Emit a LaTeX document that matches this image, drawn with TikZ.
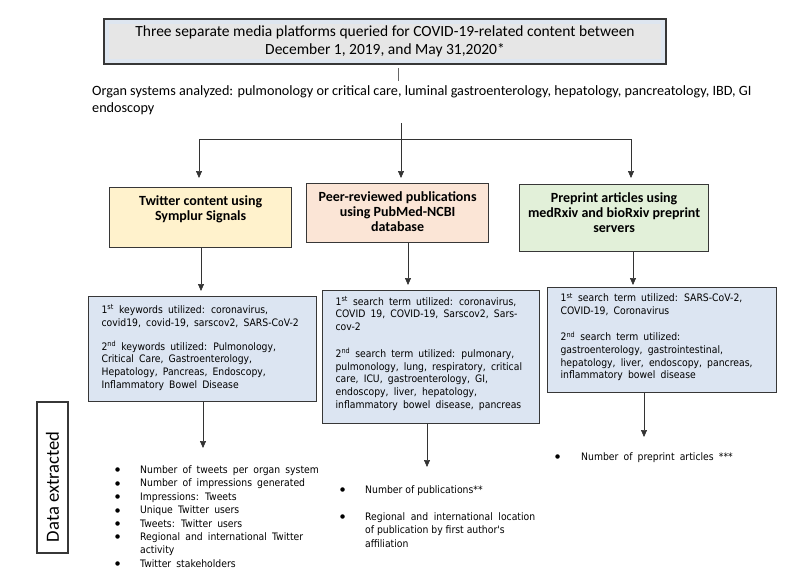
\documentclass[tikz,border=0pt]{standalone}
\usepackage{fontspec}
\setmainfont{Carlito}
\newfontfamily\headfont{Carlito}
\newfontfamily\bodyfont{DejaVu Sans}[FakeStretch=0.9]
\newfontfamily\dotfont{DejaVu Sans}
\usetikzlibrary{arrows.meta}
\definecolor{topouter}{RGB}{222,230,240}
\definecolor{topinner}{RGB}{230,230,230}
\definecolor{tyellow}{RGB}{255,242,204}
\definecolor{tpeach}{RGB}{251,229,214}
\definecolor{tgreen}{RGB}{226,240,217}
\definecolor{tblue}{RGB}{220,229,242}
\definecolor{edge}{RGB}{55,55,55}
\newcommand\bul[1]{\hspace*{-#1}\makebox[#1][l]{\raisebox{1.6pt}{\dotfont\fontsize{5.8}{5.8}\selectfont ●}}}
\begin{document}
\begin{tikzpicture}[x=1pt,y=-1pt]
\tikzset{
  line/.style={draw=black!80, line width=0.7pt},
  arr/.style={line, -{Triangle[length=7pt,width=6pt]}},
  titlebox/.style={draw=edge, line width=1.2pt, inner sep=0pt, anchor=north west,
    font=\headfont\bfseries\fontsize{14}{15}\selectfont},
  termbox/.style={draw=edge, line width=1.2pt, fill=tblue, inner sep=0pt, anchor=north west,
    font=\bodyfont\fontsize{10.3}{12.7}\selectfont},
  listtext/.style={inner sep=0pt, anchor=north west, font=\bodyfont\fontsize{10.3}{13.4}\selectfont},
}
\useasboundingbox[fill=white] (0,0) rectangle (800,587);

% top box
\node[draw=edge, line width=1.3pt, fill=topouter, minimum width=562pt, minimum height=45pt,
  inner sep=0pt, align=center, font=\headfont\fontsize{15.5}{17.5}\selectfont,
  path picture={\fill[topinner] ([shift={(5pt,-5pt)}]path picture bounding box.north west)
     rectangle ([shift={(-5pt,5pt)}]path picture bounding box.south east);}]
  (top) at (385,41.5) {Three separate media platforms queried for COVID-19-related content between\\December 1, 2019, and May 31,2020*};

\coordinate (tickA) at (398,68);
\coordinate (tickB) at (398,81);
\draw[line, draw=black!60] (tickA) -- (tickB);

\node[inner sep=0pt, anchor=north west, align=left, font=\headfont\fontsize{14.2}{16.5}\selectfont]
  (organ) at (92,85.5) {Organ systems analyzed: pulmonology or critical care, luminal gastroenterology, hepatology, pancreatology, IBD, GI\\endoscopy};

% tree
\coordinate (hub) at (401,123);
\coordinate (bar) at (401,139);
\coordinate (barL) at (199,139);
\coordinate (barR) at (631,139);

% second row
\node[titlebox, fill=tyellow] (twitter) at (109,187)
  {\parbox[c][60pt][t]{182pt}{\centering\vspace*{8pt}Twitter content using\\Symplur Signals}};
\node[titlebox, fill=tpeach] (pubmed) at (306,183)
  {\parbox[c][59pt][t]{182pt}{\centering\vspace*{8pt}Peer-reviewed publications\\using PubMed-NCBI\\database}};
\node[titlebox, fill=tgreen] (preprint) at (519,184)
  {\parbox[c][67pt][t]{189pt}{\centering\vspace*{7.7pt}Preprint articles using\\medRxiv and bioRxiv preprint\\servers}};

\draw[line] (hub) -- (bar);
\draw[line] (barL) -- (barR);
\draw[arr, shorten >=9pt] (barL) -- (barL |- twitter.north);
\draw[arr, shorten >=5pt] (bar) -- (bar |- pubmed.north);
\draw[arr, shorten >=6pt] (barR) -- (barR |- preprint.north);

% third row
\node[termbox] (kw) at (88,296)
  {\parbox[c][105pt][t]{228pt}{\raggedright\spaceskip=0.5em\leftskip=13pt\vspace*{8pt}%
  1\textsuperscript{st} keywords utilized: coronavirus,\\
  covid19, covid-19, sarscov2, SARS-CoV-2\\[11.6pt]
  2\textsuperscript{nd} keywords utilized: Pulmonology,\\
  Critical Care, Gastroenterology,\\
  Hepatology, Pancreas, Endoscopy,\\
  Inflammatory Bowel Disease}};
\node[termbox] (search) at (322,290)
  {\parbox[c][133pt][t]{217pt}{\raggedright\spaceskip=0.5em\leftskip=13pt\vspace*{6pt}%
  1\textsuperscript{st} search term utilized: coronavirus,\\
  COVID 19, COVID-19, Sarscov2, Sars-\\
  cov-2\\[14pt]
  2\textsuperscript{nd} search term utilized: pulmonary,\\
  pulmonology, lung, respiratory, critical\\
  care, ICU, gastroenterology, GI,\\
  endoscopy, liver, hepatology,\\
  inflammatory bowel disease, pancreas}};
\node[termbox] (pre) at (547,287)
  {\parbox[c][105pt][t]{229pt}{\raggedright\spaceskip=0.5em\leftskip=13pt\vspace*{5.5pt}%
  1\textsuperscript{st} search term utilized: SARS-CoV-2,\\
  COVID-19, Coronavirus\\[13.6pt]
  2\textsuperscript{nd} search term utilized:\\
  gastroenterology, gastrointestinal,\\
  hepatology, liver, endoscopy, pancreas,\\
  inflammatory bowel disease}};

\coordinate (cA) at (201,0);
\coordinate (cB) at (408,0);
\coordinate (cC) at (633,0);
\draw[arr, shorten >=5pt] (twitter.south -| cA) -- (kw.north -| cA);
\draw[arr, shorten >=5pt] (pubmed.south -| cB) -- (search.north -| cB);
\draw[arr, shorten >=2pt] (preprint.south -| cC) -- (pre.north -| cC);

% data extracted
\coordinate (tipA) at (203,448);
\coordinate (tipB) at (427,467);
\coordinate (tipC) at (644,437);
\draw[arr] (kw.south -| tipA) -- (tipA);
\draw[arr] (search.south -| tipB) -- (tipB);
\draw[arr] (pre.south -| tipC) -- (tipC);

\node[listtext] (twlist) at (115,465.5)
  {\parbox[t]{220pt}{\raggedright\spaceskip=0.5em\leftskip=25pt%
  \bul{25pt}Number of tweets per organ system\\
  \bul{25pt}Number of impressions generated\\
  \bul{25pt}Impressions: Tweets\\
  \bul{25pt}Unique Twitter users\\
  \bul{25pt}Tweets: Twitter users\\
  \bul{25pt}Regional and international Twitter\\
  activity\\
  \bul{25pt}Twitter stakeholders}};

\node[listtext] (publist) at (340,485.5)
  {\parbox[t]{195pt}{\leftskip=25pt%
  \bul{25pt}Number of publications**\\[13.6pt]
  \bul{25pt}Regional and international location\linebreak
  of publication by first author's\hfill\null\\
  affiliation}};

\node[listtext] (prelist) at (555,452)
  {\parbox[t]{220pt}{\raggedright\spaceskip=0.5em\leftskip=26pt%
  \bul{26pt}Number of preprint articles ***}};

\node[draw=edge, line width=1.3pt, rotate=90, inner sep=0pt, minimum width=151pt, minimum height=31pt,
  font=\headfont\fontsize{18.6}{20}\selectfont] (dx) at (52.5,477.5)
  {\makebox[151pt][l]{\hspace{11pt}Data extracted}};
\end{tikzpicture}
\end{document}
